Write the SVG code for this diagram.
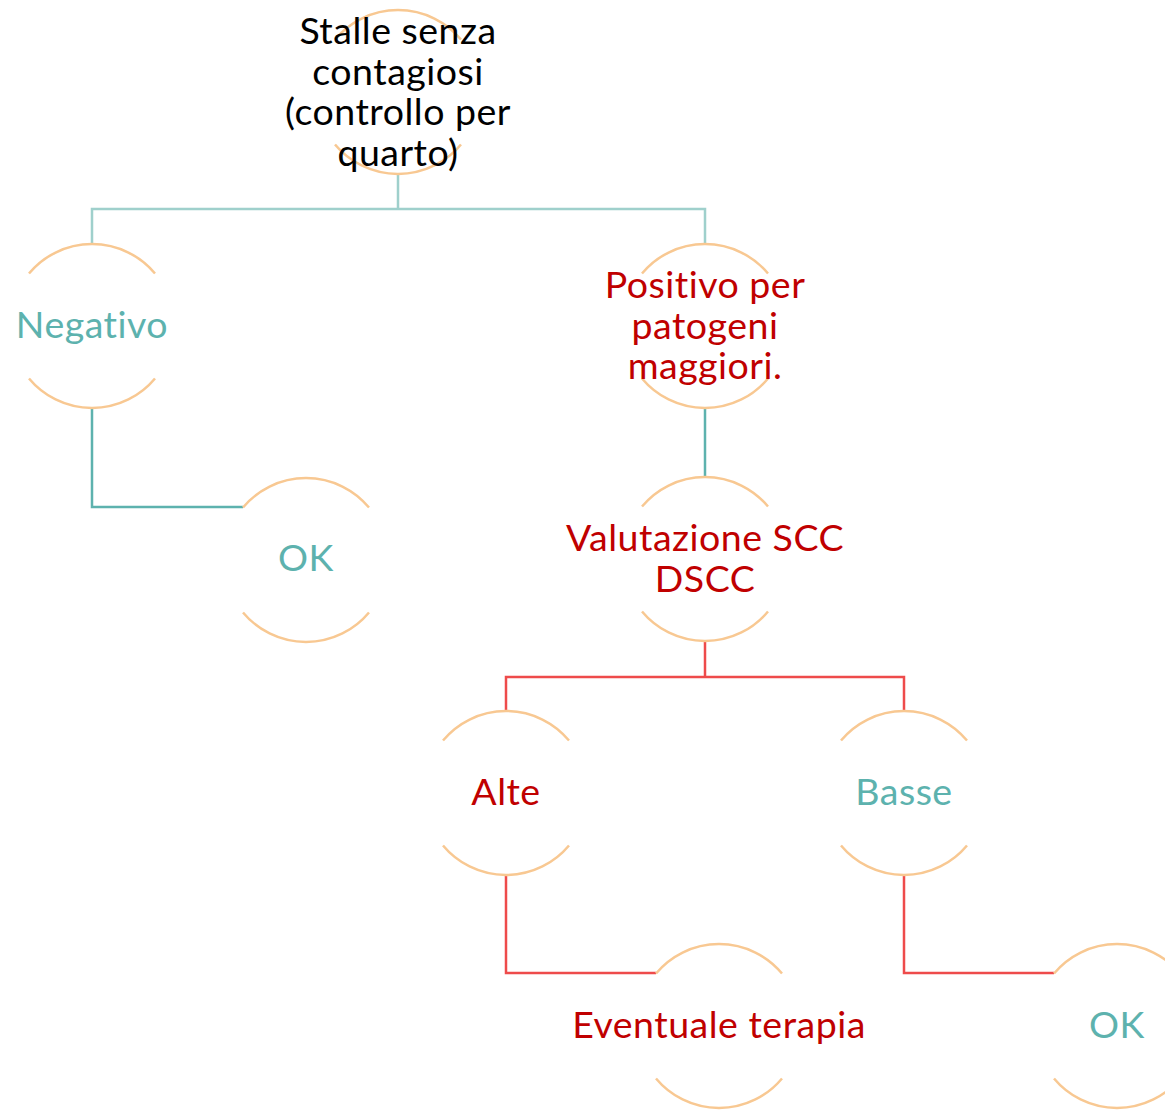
<svg xmlns="http://www.w3.org/2000/svg" width="1165" height="1110" viewBox="0 0 1165 1110">
<style>
.arc{fill:none;stroke:#F8C892;stroke-width:2.5}
.t{font-family:"Lato","Noto Sans",sans-serif;font-size:37.5px;letter-spacing:0.5px;font-variant-ligatures:none;text-anchor:middle}
.k{fill:#000}
.g{fill:#5DB2AE}
.r{fill:#C00000}
.c1{fill:none;stroke:#9FD0CC;stroke-width:2.5}
.c2{fill:none;stroke:#5DB2AE;stroke-width:2.5}
.c3{fill:none;stroke:#EE4B4B;stroke-width:2.5}
</style>
<defs>
<g id="ring">
<path class="arc" d="M-63,-52.5 A82,82 0 0 1 63,-52.5"/>
<path class="arc" d="M-63,52.5 A82,82 0 0 0 63,52.5"/>
</g>
</defs>
<g id="connectors">
<path class="c1" d="M398,175 V209 M92,244 V209 H705 V244"/>
<path class="c2" d="M92,408 V507 H243"/>
<path class="c2" d="M705,408 V477"/>
<path class="c3" d="M705,641 V677 M506,711 V677 H904 V711"/>
<path class="c3" d="M506,875 V973 H656"/>
<path class="c3" d="M904,875 V973 H1054"/>
</g>
<g id="root"><use href="#ring" x="398" y="92"/>
<text class="t k" x="398"><tspan x="398" y="44">Stalle senza</tspan><tspan x="398" y="85">contagiosi</tspan><tspan x="398" y="125">(controllo per</tspan><tspan x="398" y="166">quarto)</tspan></text></g>
<g id="negativo"><use href="#ring" x="92" y="326"/><text class="t g" x="92" y="338">Negativo</text></g>
<g id="ok1"><use href="#ring" x="306" y="560"/><text class="t g" x="306" y="571">OK</text></g>
<g id="positivo"><use href="#ring" x="705" y="326"/>
<text class="t r"><tspan x="705" y="298">Positivo per</tspan><tspan x="705" y="339">patogeni</tspan><tspan x="705" y="379">maggiori.</tspan></text></g>
<g id="valutazione"><use href="#ring" x="705" y="559"/>
<text class="t r"><tspan x="705" y="551">Valutazione SCC</tspan><tspan x="705" y="592">DSCC</tspan></text></g>
<g id="alte"><use href="#ring" x="506" y="793"/><text class="t r" x="506" y="805">Alte</text></g>
<g id="basse"><use href="#ring" x="904" y="793"/><text class="t g" x="904" y="805">Basse</text></g>
<g id="eventuale"><use href="#ring" x="719" y="1026"/><text class="t r" x="719" y="1038">Eventuale terapia</text></g>
<g id="ok2"><use href="#ring" x="1117" y="1026"/><text class="t g" x="1117" y="1038">OK</text></g>
</svg>
